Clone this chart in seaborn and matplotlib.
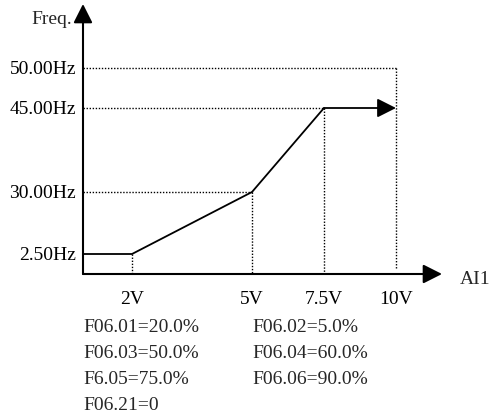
import numpy as np
import matplotlib
matplotlib.use("Agg")
import matplotlib.pyplot as plt
import seaborn as sns

# curve data (AI1 voltage -> output frequency)
volts = [0, 2, 5, 7.5, 10]
freqs = [2.5, 2.5, 30, 45, 45]
max_freq = 50
volt_labels = ["2V", "5V", "7.5V", "10V"]
freq_ticks = [2.5, 30, 45, 50]
freq_labels = ["2.50Hz", "30.00Hz", "45.00Hz", "50.00Hz"]
params_left = ["F06.01=20.0%", "F06.03=50.0%", "F6.05=75.0%", "F06.21=0"]
params_right = ["F06.02=5.0%", "F06.04=60.0%", "F06.06=90.0%"]

# the drawing is a schematic, not to scale: piecewise-linear axis scales
x_anchor = [-1000, 0, 2, 5, 7.5, 10, 11.6, 1000]
x_pos = [-24500, 0, 49, 169, 241, 313, 359, 359 + 988.4 * 28.75]
y_anchor = [-1000, 0, 2.5, 30, 45, 50, 58, 1000]
y_pos = [-8000, 0, 20, 82, 166, 206, 270, 270 + 942 * 8]


def make_scale(xp, fp):
    fwd = lambda v: np.interp(v, xp, fp)
    inv = lambda p: np.interp(p, fp, xp)
    return fwd, inv


sns.set_style("white")
plt.rcParams["font.family"] = ["Liberation Serif", "DejaVu Serif"]
plt.rcParams["font.size"] = 14

W, H = 492, 418
fig = plt.figure(figsize=(W / 100, H / 100), dpi=100)
ax = fig.add_axes([83 / W, (H - 274) / H, 359 / W, 270 / H])
ax.set_xscale("function", functions=make_scale(x_anchor, x_pos))
ax.set_yscale("function", functions=make_scale(y_anchor, y_pos))
ax.set_xlim(0, 11.6)
ax.set_ylim(0, 58)
for s in ax.spines.values():
    s.set_visible(False)

dot = dict(color="black", lw=1.0, ls=(0, (1, 1.2)), clip_on=False)
# horizontal guides
ax.plot([0, volts[4]], [max_freq, max_freq], **dot)
ax.plot([0, volts[3]], [freqs[3], freqs[3]], **dot)
ax.plot([0, volts[2]], [freqs[2], freqs[2]], **dot)
# vertical guides
ax.plot([volts[4], volts[4]], [max_freq, 0.8], **dot)
ax.plot([volts[3], volts[3]], [freqs[3], 0], **dot)
ax.plot([volts[2], volts[2]], [freqs[2], 0], **dot)
ax.plot([volts[1], volts[1]], [freqs[1], 0], **dot)

# the curve
sns.lineplot(x=volts[:4], y=freqs[:4], sort=False, color="black", lw=1.3, ax=ax)
head = "-|>,head_length=1.15,head_width=0.58"
ax.annotate("", xy=(volts[4], freqs[4]), xytext=(volts[3], freqs[3]),
            arrowprops=dict(arrowstyle=head, mutation_scale=10, lw=1.3,
                            color="black", shrinkA=0, shrinkB=0),
            annotation_clip=False)

# axes with arrows
ax.annotate("", xy=(11.6, 0), xytext=(0, 0),
            arrowprops=dict(arrowstyle=head, mutation_scale=10, lw=1.5,
                            color="black", shrinkA=0, shrinkB=0),
            annotation_clip=False)
ax.annotate("", xy=(0, 58), xytext=(0, 0),
            arrowprops=dict(arrowstyle=head, mutation_scale=10, lw=1.5,
                            color="black", shrinkA=0, shrinkB=0),
            annotation_clip=False)

ax.set_xticks(volts[1:], volt_labels)
ax.set_yticks(freq_ticks, freq_labels)
ax.tick_params(axis="both", length=0, labelsize=14, colors="black")
ax.tick_params(axis="x", pad=12)
ax.tick_params(axis="y", pad=5)
ax.minorticks_off()
ax.grid(False)

fig.text(72 / W, 1 - 20 / H, "Freq.", ha="right", va="center", fontsize=14)
fig.text(460 / W, 1 - 279 / H, "AI1", ha="left", va="center", fontsize=14)

row_y = [327, 353, 379, 406]
for i, t in enumerate(params_left):
    fig.text(83 / W, 1 - row_y[i] / H, t, ha="left", va="center", fontsize=14)
for i, t in enumerate(params_right):
    fig.text(252 / W, 1 - row_y[i] / H, t, ha="left", va="center", fontsize=14)

fig.savefig("out.png", dpi=100, facecolor="white")
